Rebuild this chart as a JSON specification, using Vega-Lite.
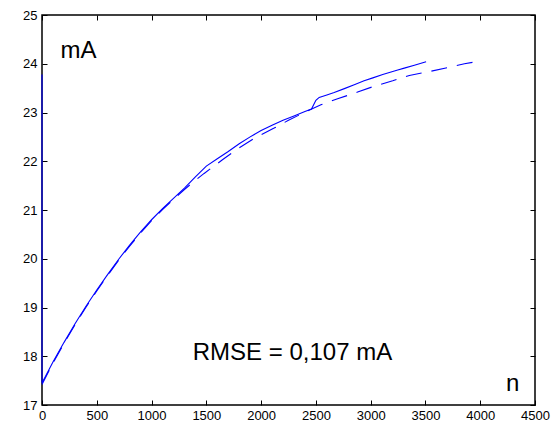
{
  "$schema": "https://vega.github.io/schema/vega-lite/v6.json",
  "width": 493,
  "height": 390,
  "autosize": {"type": "none"},
  "padding": {"left": 42, "top": 15, "right": 23, "bottom": 19},
  "background": "white",
  "config": {
    "view": {"stroke": "black", "strokeWidth": 1.5},
    "font": "Liberation Sans",
    "axis": {
      "grid": false,
      "domain": false,
      "tickColor": "black",
      "tickSize": -5,
      "tickWidth": 1,
      "labelColor": "black",
      "labelFont": "Liberation Sans",
      "labelFontSize": 13,
      "labelFlush": false,
      "labelOverlap": false,
      "title": null
    }
  },
  "datasets": {
    "curves": [
      {"series": "model", "i": 1, "n": 0, "mA": 17.42},
      {"series": "model", "i": 2, "n": 100, "mA": 17.86},
      {"series": "model", "i": 3, "n": 200, "mA": 18.26},
      {"series": "model", "i": 4, "n": 300, "mA": 18.64},
      {"series": "model", "i": 5, "n": 400, "mA": 19.0},
      {"series": "model", "i": 6, "n": 500, "mA": 19.34},
      {"series": "model", "i": 7, "n": 600, "mA": 19.66},
      {"series": "model", "i": 8, "n": 700, "mA": 19.97},
      {"series": "model", "i": 9, "n": 800, "mA": 20.26},
      {"series": "model", "i": 10, "n": 900, "mA": 20.53},
      {"series": "model", "i": 11, "n": 1000, "mA": 20.78},
      {"series": "model", "i": 12, "n": 1100, "mA": 21.01},
      {"series": "model", "i": 13, "n": 1200, "mA": 21.22},
      {"series": "model", "i": 14, "n": 1300, "mA": 21.42},
      {"series": "model", "i": 15, "n": 1373, "mA": 21.56},
      {"series": "model", "i": 16, "n": 1480, "mA": 21.75},
      {"series": "model", "i": 17, "n": 1647, "mA": 22.03},
      {"series": "model", "i": 18, "n": 1784, "mA": 22.25},
      {"series": "model", "i": 19, "n": 1936, "mA": 22.47},
      {"series": "model", "i": 20, "n": 2119, "mA": 22.68},
      {"series": "model", "i": 21, "n": 2250, "mA": 22.84},
      {"series": "model", "i": 22, "n": 2393, "mA": 23.0},
      {"series": "model", "i": 23, "n": 2546, "mA": 23.16},
      {"series": "model", "i": 24, "n": 2698, "mA": 23.28},
      {"series": "model", "i": 25, "n": 2881, "mA": 23.42},
      {"series": "model", "i": 26, "n": 3033, "mA": 23.54},
      {"series": "model", "i": 27, "n": 3201, "mA": 23.65},
      {"series": "model", "i": 28, "n": 3353, "mA": 23.76},
      {"series": "model", "i": 29, "n": 3536, "mA": 23.84},
      {"series": "model", "i": 30, "n": 3719, "mA": 23.93},
      {"series": "model", "i": 31, "n": 3856, "mA": 24.0},
      {"series": "model", "i": 32, "n": 4008, "mA": 24.06},
      {"series": "measured", "i": 1, "n": 0, "mA": 23.78},
      {"series": "measured", "i": 2, "n": 0, "mA": 17.45},
      {"series": "measured", "i": 3, "n": 100, "mA": 17.88},
      {"series": "measured", "i": 4, "n": 200, "mA": 18.28},
      {"series": "measured", "i": 5, "n": 300, "mA": 18.66},
      {"series": "measured", "i": 6, "n": 400, "mA": 19.02},
      {"series": "measured", "i": 7, "n": 500, "mA": 19.36},
      {"series": "measured", "i": 8, "n": 600, "mA": 19.68},
      {"series": "measured", "i": 9, "n": 700, "mA": 19.99},
      {"series": "measured", "i": 10, "n": 800, "mA": 20.28},
      {"series": "measured", "i": 11, "n": 900, "mA": 20.55},
      {"series": "measured", "i": 12, "n": 1000, "mA": 20.8},
      {"series": "measured", "i": 13, "n": 1100, "mA": 21.03},
      {"series": "measured", "i": 14, "n": 1200, "mA": 21.24},
      {"series": "measured", "i": 15, "n": 1300, "mA": 21.45},
      {"series": "measured", "i": 16, "n": 1400, "mA": 21.68},
      {"series": "measured", "i": 17, "n": 1500, "mA": 21.9},
      {"series": "measured", "i": 18, "n": 1600, "mA": 22.05},
      {"series": "measured", "i": 19, "n": 1700, "mA": 22.2},
      {"series": "measured", "i": 20, "n": 1800, "mA": 22.36},
      {"series": "measured", "i": 21, "n": 1900, "mA": 22.5},
      {"series": "measured", "i": 22, "n": 2000, "mA": 22.63},
      {"series": "measured", "i": 23, "n": 2100, "mA": 22.74},
      {"series": "measured", "i": 24, "n": 2200, "mA": 22.84},
      {"series": "measured", "i": 25, "n": 2300, "mA": 22.93},
      {"series": "measured", "i": 26, "n": 2400, "mA": 23.02},
      {"series": "measured", "i": 27, "n": 2460, "mA": 23.07},
      {"series": "measured", "i": 28, "n": 2500, "mA": 23.25},
      {"series": "measured", "i": 29, "n": 2530, "mA": 23.31},
      {"series": "measured", "i": 30, "n": 2600, "mA": 23.36},
      {"series": "measured", "i": 31, "n": 2667, "mA": 23.41},
      {"series": "measured", "i": 32, "n": 2760, "mA": 23.49},
      {"series": "measured", "i": 33, "n": 2850, "mA": 23.57},
      {"series": "measured", "i": 34, "n": 2940, "mA": 23.65},
      {"series": "measured", "i": 35, "n": 3020, "mA": 23.71},
      {"series": "measured", "i": 36, "n": 3110, "mA": 23.78},
      {"series": "measured", "i": 37, "n": 3186, "mA": 23.83},
      {"series": "measured", "i": 38, "n": 3247, "mA": 23.87},
      {"series": "measured", "i": 39, "n": 3307, "mA": 23.91},
      {"series": "measured", "i": 40, "n": 3399, "mA": 23.97},
      {"series": "measured", "i": 41, "n": 3506, "mA": 24.04}
    ],
    "notes": [
      {"label": "mA", "n": 169, "mA": 24.12},
      {"label": "RMSE = 0,107 mA", "n": 1376, "mA": 17.92},
      {"label": "n", "n": 4235, "mA": 17.29}
    ]
  },
  "layer": [
    {
      "data": {"name": "curves"},
      "transform": [{"filter": "datum.series === 'model'"}],
      "mark": {"type": "line", "color": "#0000ff", "strokeWidth": 1.1, "strokeDash": [16, 10]},
      "encoding": {
        "x": {"field": "n", "type": "quantitative", "scale": {"domain": [0, 4500], "nice": false, "zero": false},
              "axis": {"orient": "bottom", "values": [0, 500, 1000, 1500, 2000, 2500, 3000, 3500, 4000, 4500], "format": "d", "labelPadding": 9}},
        "y": {"field": "mA", "type": "quantitative", "scale": {"domain": [17, 25], "nice": false, "zero": false},
              "axis": {"orient": "left", "values": [17, 18, 19, 20, 21, 22, 23, 24, 25], "format": "d", "labelPadding": 10}},
        "order": {"field": "i", "type": "quantitative"}
      }
    },
    {
      "data": {"name": "curves"},
      "transform": [{"filter": "datum.series === 'measured'"}],
      "mark": {"type": "line", "color": "#0000ff", "strokeWidth": 1.1},
      "encoding": {
        "x": {"field": "n", "type": "quantitative",
              "axis": {"orient": "top", "values": [0, 500, 1000, 1500, 2000, 2500, 3000, 3500, 4000, 4500], "labels": false}},
        "y": {"field": "mA", "type": "quantitative",
              "axis": {"orient": "right", "values": [17, 18, 19, 20, 21, 22, 23, 24, 25], "labels": false}},
        "order": {"field": "i", "type": "quantitative"}
      }
    },
    {
      "data": {"name": "notes"},
      "mark": {"type": "text", "align": "left", "baseline": "alphabetic", "fontSize": 24, "font": "Liberation Sans", "color": "black"},
      "encoding": {
        "x": {"field": "n", "type": "quantitative", "axis": null},
        "y": {"field": "mA", "type": "quantitative", "axis": null},
        "text": {"field": "label"}
      }
    }
  ],
  "resolve": {"axis": {"x": "independent", "y": "independent"}}
}
